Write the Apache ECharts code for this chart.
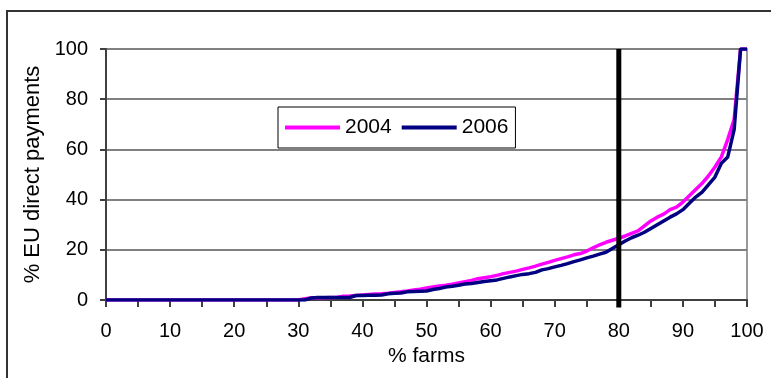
<!DOCTYPE html>
<html>
<head>
<meta charset="utf-8">
<script src="https://cdn.jsdelivr.net/npm/echarts@6/dist/echarts.min.js"></script>
<style>
  html, body { margin: 0; padding: 0; background: #fff; }
  #chart { width: 771px; height: 378px; }
</style>
</head>
<body>
<div id="chart"></div>
<script>
// Cumulative share of EU direct payments against cumulative share of farms
const farmsPct = [];
for (let i = 0; i <= 100; i++) farmsPct.push(i);

const payments2004 = [
  0, 0, 0, 0, 0, 0, 0, 0, 0, 0,
  0, 0, 0, 0, 0, 0, 0, 0, 0, 0,
  0, 0, 0, 0, 0, 0, 0, 0, 0, 0,
  0, 0.5, 0.8, 0.8, 0.9, 1.0, 1.0, 1.5, 1.6, 1.8,
  2.0, 2.2, 2.4, 2.5, 2.7, 3.0, 3.3, 3.6, 4.0, 4.3,
  4.8, 5.2, 5.6, 5.9, 6.3, 6.8, 7.3, 7.8, 8.5, 8.9,
  9.3, 9.8, 10.5, 11.0, 11.5, 12.2, 12.8, 13.5, 14.3, 15.0,
  15.8, 16.5, 17.2, 18.0, 18.5, 19.5, 20.8, 22.0, 23.0, 23.8,
  24.6, 25.5, 26.5, 27.5, 29.5, 31.5, 33.0, 34.2, 36.0, 37.0,
  39.0, 41.5, 44.0, 46.5, 49.5, 53.0, 57.0, 64.0, 72.0, 100,
  100
];

const payments2006 = [
  0, 0, 0, 0, 0, 0, 0, 0, 0, 0,
  0, 0, 0, 0, 0, 0, 0, 0, 0, 0,
  0, 0, 0, 0, 0, 0, 0, 0, 0, 0,
  0, 0, 0.8, 1.0, 1.0, 1.0, 1.0, 1.0, 1.0, 1.8,
  1.8, 1.9, 1.9, 2.0, 2.5, 2.7, 2.8, 3.3, 3.4, 3.5,
  3.6, 4.2, 4.6, 5.2, 5.5, 5.9, 6.4, 6.6, 7.0, 7.4,
  7.7, 8.0, 8.6, 9.2, 9.7, 10.2, 10.5, 11.0, 12.0, 12.5,
  13.2, 13.8, 14.5, 15.3, 16.0, 16.8, 17.5, 18.3, 19.0, 20.5,
  22.0, 23.5, 24.8, 25.8, 27.0, 28.5, 30.0, 31.5, 33.0, 34.3,
  36.0, 38.5, 41.0, 43.0, 46.0, 49.0, 54.5, 57.0, 68.0, 100,
  100
];

const seriesNames = ['2004', '2006'];
const seriesColors = ['#ff00ff', '#000080'];
const cutoffFarms = 80;
const xTicks = { min: 0, max: 100, step: 5, labelStep: 10 };
const yTicks = { min: 0, max: 100, step: 20 };

const font = 'Liberation Sans, Arial, sans-serif';

function pairs(ys) {
  return farmsPct.map((x, i) => [x, ys[i]]);
}

const chart = echarts.init(document.getElementById('chart'), null, { renderer: 'canvas' });

chart.setOption({
  animation: false,
  backgroundColor: '#ffffff',
  textStyle: { fontFamily: font, color: '#000' },
  graphic: [{
    type: 'rect',
    shape: { x: 7, y: 11, width: 820, height: 420 },
    style: { fill: 'none', stroke: '#333', lineWidth: 2 },
    silent: true
  }],
  grid: {
    left: 106, right: 24, top: 49, bottom: 78,
    show: true, borderColor: '#999', borderWidth: 2, backgroundColor: 'transparent'
  },
  legend: {
    data: seriesNames,
    left: 278, top: 107,
    orient: 'horizontal',
    backgroundColor: '#fff',
    borderColor: '#000', borderWidth: 1, borderRadius: 0,
    padding: [10, 7, 10, 7],
    icon: 'rect',
    itemWidth: 55, itemHeight: 4, itemGap: 10,
    textStyle: { fontFamily: font, fontSize: 21, color: '#000' }
  },
  xAxis: {
    type: 'value',
    min: xTicks.min, max: xTicks.max, interval: xTicks.step,
    name: '% farms',
    nameLocation: 'middle', nameGap: 42,
    nameTextStyle: { fontFamily: font, fontSize: 21, color: '#000' },
    axisLine: { show: true, onZero: false, lineStyle: { color: '#404040', width: 2 } },
    axisTick: { show: true, inside: false, length: 7, lineStyle: { color: '#404040', width: 2 } },
    axisLabel: {
      fontFamily: font, fontSize: 20, color: '#000', margin: 21,
      formatter: v => (v % xTicks.labelStep === 0 ? String(v) : '')
    },
    splitLine: { show: false }
  },
  yAxis: {
    type: 'value',
    min: yTicks.min, max: yTicks.max, interval: yTicks.step,
    name: '% EU direct payments',
    nameLocation: 'middle', nameGap: 60, nameRotate: 90,
    nameTextStyle: { fontFamily: font, fontSize: 22, color: '#000' },
    axisLine: { show: true, lineStyle: { color: '#404040', width: 2 } },
    axisTick: { show: true, inside: false, length: 6, lineStyle: { color: '#404040', width: 2 } },
    axisLabel: { fontFamily: font, fontSize: 20, color: '#000', margin: 18 },
    splitLine: { show: true, lineStyle: { color: '#808080', width: 2 } }
  },
  series: [
    {
      name: seriesNames[0], type: 'line', data: pairs(payments2004),
      showSymbol: false, symbol: 'none',
      lineStyle: { color: seriesColors[0], width: 3.5 },
      itemStyle: { color: seriesColors[0] },
      z: 3
    },
    {
      name: seriesNames[1], type: 'line', data: pairs(payments2006),
      showSymbol: false, symbol: 'none',
      lineStyle: { color: seriesColors[1], width: 3.5 },
      itemStyle: { color: seriesColors[1] },
      z: 4
    },
    {
      name: 'cutoff', type: 'line',
      data: [[cutoffFarms, -3], [cutoffFarms, yTicks.max]],
      clip: false, showSymbol: false, symbol: 'none',
      lineStyle: { color: '#000', width: 5 },
      z: 5, silent: true
    }
  ]
});
</script>
</body>
</html>
